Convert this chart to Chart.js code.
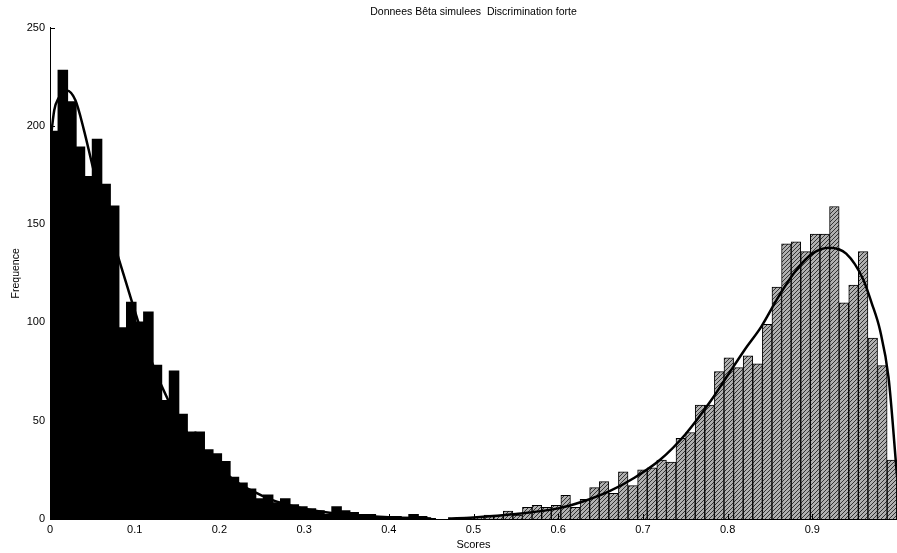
<!DOCTYPE html>
<html>
<head>
<meta charset="utf-8">
<script src="https://cdn.jsdelivr.net/npm/chart.js@4"></script>
<style>
  html, body { margin: 0; padding: 0; background: #fff; }
  #wrap { width: 897px; height: 553px; }
</style>
</head>
<body>
<div id="wrap"><canvas id="betaChart"></canvas></div>
<script>
// histogram of the low scores (black bars)
const leftBinStart = 0;
const leftBinWidth = 0.0101;
const leftCounts = [197, 228, 212, 189, 174, 193, 170, 159, 97, 110, 100, 105, 78, 60, 75,
  53, 44, 44, 35, 33, 29, 21, 18, 15, 10, 12, 8, 10, 7, 6, 5, 4, 2, 6, 4, 3, 2, 2, 1, 1, 1, 0, 2, 1, 0];

// histogram of the high scores (grey bars)
const rightBinStart = 0.4785;
const rightBinWidth = 0.01133;
const rightCounts = [0, 1, 1, 2, 2, 4, 2, 6, 7, 6, 7, 12, 6, 10, 16, 19, 13, 24, 17, 25, 26, 30,
  29, 41, 44, 58, 58, 75, 82, 77, 83, 79, 99, 118, 140, 141, 136, 145, 145, 159, 110, 119, 136, 92, 78, 30];

// fitted beta curves
const leftCurveX = [0, 0.005, 0.01, 0.02, 0.03, 0.04, 0.05, 0.06, 0.07, 0.08, 0.09, 0.10, 0.12,
  0.14, 0.16, 0.18, 0.20, 0.22, 0.24, 0.26, 0.28, 0.30, 0.33, 0.36, 0.40, 0.45];
const leftCurveY = [190, 208, 214, 218, 213, 198, 180, 163, 148, 134, 120, 106, 80,
  60, 45, 34, 26, 19, 14, 10, 7.3, 5.2, 3.2, 1.9, 0.9, 0.3];
const rightCurveX = [0.47, 0.50, 0.55, 0.60, 0.63, 0.66, 0.69, 0.72, 0.75, 0.78, 0.80, 0.82,
  0.84, 0.86, 0.88, 0.90, 0.92, 0.94, 0.96, 0.97, 0.98, 0.99, 1.0];
const rightCurveY = [0.2, 0.8, 2.5, 5.4, 9, 14, 21, 30, 43, 60, 73, 86,
  98, 113, 126, 135, 138, 135, 122, 110, 96, 72, 22];

const xTicks = [0, 0.1, 0.2, 0.3, 0.4, 0.5, 0.6, 0.7, 0.8, 0.9];
const yTicks = [0, 50, 100, 150, 200, 250];

const toBars = (start, width, counts) =>
  counts.map((c, i) => ({ x: start + (i + 0.5) * width, y: c }));
const toPoints = (xs, ys) => xs.map((x, i) => ({ x: x, y: ys[i] }));

function hatch() {
  const c = document.createElement("canvas");
  c.width = 4; c.height = 4;
  const g = c.getContext("2d");
  g.fillStyle = "#b0b0b0";
  g.fillRect(0, 0, 4, 4);
  g.strokeStyle = "#333";
  g.lineWidth = 1;
  g.beginPath();
  g.moveTo(0, 4); g.lineTo(4, 0);
  g.moveTo(-1, 1); g.lineTo(1, -1);
  g.moveTo(3, 5); g.lineTo(5, 3);
  g.stroke();
  return g.createPattern(c, "repeat");
}

// matlab style ticks pointing into the plot
const inwardTicks = {
  id: "inwardTicks",
  afterDatasetsDraw(chart) {
    const { ctx, chartArea, scales } = chart;
    ctx.save();
    ctx.strokeStyle = "#000";
    ctx.lineWidth = 1;
    ctx.beginPath();
    scales.y.ticks.forEach((t) => {
      const py = Math.round(scales.y.getPixelForValue(t.value)) + 0.5;
      ctx.moveTo(chartArea.left, py);
      ctx.lineTo(chartArea.left + 5, py);
    });
    scales.x.ticks.forEach((t) => {
      const px = Math.round(scales.x.getPixelForValue(t.value)) + 0.5;
      ctx.moveTo(px, chartArea.bottom);
      ctx.lineTo(px, chartArea.bottom - 5);
    });
    ctx.stroke();
    ctx.restore();
  },
};

const font = { family: "'Liberation Sans', Arial, sans-serif", size: 11 };

const ctx = document.getElementById("betaChart").getContext("2d");
new Chart(ctx, {
  type: "bar",
  data: {
    datasets: [
      {
        type: "line",
        data: toPoints(leftCurveX, leftCurveY),
        borderColor: "#000",
        borderWidth: 2.5,
        pointRadius: 0,
        fill: false,
        cubicInterpolationMode: "monotone",
        order: 0,
      },
      {
        type: "line",
        data: toPoints(rightCurveX, rightCurveY),
        borderColor: "#000",
        borderWidth: 2.5,
        pointRadius: 0,
        fill: false,
        cubicInterpolationMode: "monotone",
        order: 0,
      },
      {
        data: toBars(leftBinStart, leftBinWidth, leftCounts),
        backgroundColor: "#000",
        borderColor: "#000",
        borderWidth: 0,
        inflateAmount: 1,
        barThickness: "flex",
        categoryPercentage: 1,
        barPercentage: 1,
        stack: "hist",
        order: 1,
      },
      {
        data: toBars(rightBinStart, rightBinWidth, rightCounts),
        backgroundColor: hatch(),
        borderColor: "#000",
        borderWidth: 1,
        barThickness: "flex",
        categoryPercentage: 1,
        barPercentage: 1,
        stack: "hist",
        order: 1,
      },
    ],
  },
  options: {
    responsive: true,
    maintainAspectRatio: false,
    animation: false,
    layout: { padding: 0 },
    scales: {
      x: {
        type: "linear",
        min: 0,
        max: 1,
        offset: false,
        stacked: true,
        afterBuildTicks: (s) => { s.ticks = xTicks.map((v) => ({ value: v })); },
        afterFit: (s) => { s.height = 34; },
        grid: { display: false, drawTicks: false },
        border: { display: true, color: "#000", width: 1 },
        ticks: {
          color: "#000",
          font: font,
          padding: 4,
          maxRotation: 0,
          callback: (v) => (v === 0 ? "0" : v.toFixed(1)),
        },
        title: {
          display: true,
          text: "Scores",
          color: "#000",
          font: font,
          padding: { top: 0, bottom: 1.5 },
        },
      },
      y: {
        min: 0,
        max: 250,
        afterBuildTicks: (s) => { s.ticks = yTicks.map((v) => ({ value: v })); },
        afterFit: (s) => { s.width = 50; },
        grid: { display: false, drawTicks: false },
        border: { display: true, color: "#000", width: 1 },
        ticks: { color: "#000", font: font, padding: 5 },
        title: {
          display: true,
          text: "Frequence",
          color: "#000",
          font: { family: font.family, size: 10.5 },
          padding: { top: 10, bottom: 0 },
        },
      },
    },
    plugins: {
      legend: { display: false },
      tooltip: { enabled: false },
      title: {
        display: true,
        text: "Donnees Bêta simulees  Discrimination forte",
        color: "#000",
        fullSize: false,
        font: { family: font.family, size: 10.5, weight: "normal" },
        padding: { top: 6, bottom: 9 },
      },
    },
  },
  plugins: [inwardTicks],
});
</script>
</body>
</html>
